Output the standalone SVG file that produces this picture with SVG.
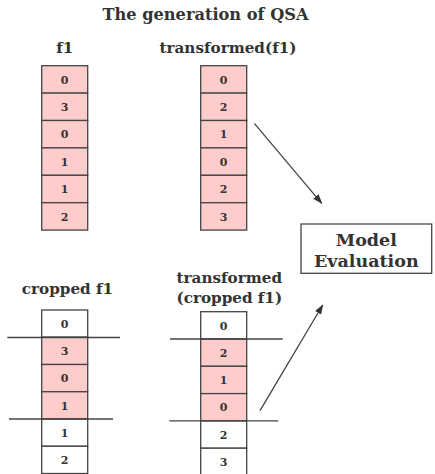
<svg xmlns="http://www.w3.org/2000/svg" width="435" height="474" viewBox="0 0 435 474">
<defs>
<style>
.t{font-family:"DejaVu Serif","Liberation Serif",serif;font-weight:bold;fill:#333;text-anchor:middle}
.title{font-size:16.2px}
.lbl{font-size:15.2px}
.me{font-size:17.5px}
.d{font-size:11px}
.pk{fill:#ffcccc;stroke:#444;stroke-width:1.3}
.wh{fill:#ffffff;stroke:#444;stroke-width:1.3}
.ln{stroke:#444;stroke-width:1.3;fill:none}
</style>
<marker id="ah" markerWidth="10" markerHeight="8" refX="9" refY="4" orient="auto" markerUnits="userSpaceOnUse">
<path d="M0,0.5 L10,4 L0,7.5 z" fill="#333"/>
</marker>
</defs>
<rect width="435" height="474" fill="#fff"/>
<text class="t title" x="205.5" y="19.5">The generation of QSA</text>

<g id="f1">
<text class="t lbl" x="64.7" y="53">f1</text>
<rect class="pk" x="41.7" y="65.7" width="46" height="27.4"/>
<rect class="pk" x="41.7" y="93.1" width="46" height="27.4"/>
<rect class="pk" x="41.7" y="120.5" width="46" height="27.4"/>
<rect class="pk" x="41.7" y="147.9" width="46" height="27.4"/>
<rect class="pk" x="41.7" y="175.3" width="46" height="27.4"/>
<rect class="pk" x="41.7" y="202.7" width="46" height="27.4"/>
<text class="t d" x="64.7" y="83.5">0</text>
<text class="t d" x="64.7" y="110.9">3</text>
<text class="t d" x="64.7" y="138.3">0</text>
<text class="t d" x="64.7" y="165.7">1</text>
<text class="t d" x="64.7" y="193.1">1</text>
<text class="t d" x="64.7" y="220.5">2</text>
</g>

<g id="transformed-f1">
<text class="t lbl" x="228" y="53">transformed(f1)</text>
<rect class="pk" x="200.7" y="65.7" width="46" height="27.4"/>
<rect class="pk" x="200.7" y="93.1" width="46" height="27.4"/>
<rect class="pk" x="200.7" y="120.5" width="46" height="27.4"/>
<rect class="pk" x="200.7" y="147.9" width="46" height="27.4"/>
<rect class="pk" x="200.7" y="175.3" width="46" height="27.4"/>
<rect class="pk" x="200.7" y="202.7" width="46" height="27.4"/>
<text class="t d" x="223.7" y="83.5">0</text>
<text class="t d" x="223.7" y="110.9">2</text>
<text class="t d" x="223.7" y="138.3">1</text>
<text class="t d" x="223.7" y="165.7">0</text>
<text class="t d" x="223.7" y="193.1">2</text>
<text class="t d" x="223.7" y="220.5">3</text>
</g>

<g id="model-evaluation">
<rect class="wh" x="301" y="224" width="130.7" height="49.3"/>
<text class="t me" x="366.3" y="245.5">Model</text>
<text class="t me" x="366.3" y="266.5">Evaluation</text>
</g>

<g id="cropped-f1">
<text class="t lbl" x="67.5" y="294">cropped f1</text>
<rect class="wh" x="41.7" y="310" width="46" height="27.25"/>
<rect class="pk" x="41.7" y="337.25" width="46" height="27.25"/>
<rect class="pk" x="41.7" y="364.5" width="46" height="27.25"/>
<rect class="pk" x="41.7" y="391.75" width="46" height="27.25"/>
<rect class="wh" x="41.7" y="419" width="46" height="27.25"/>
<rect class="wh" x="41.7" y="446.25" width="46" height="27.25"/>
<text class="t d" x="64.7" y="327.8">0</text>
<text class="t d" x="64.7" y="355">3</text>
<text class="t d" x="64.7" y="382.3">0</text>
<text class="t d" x="64.7" y="409.5">1</text>
<text class="t d" x="64.7" y="436.8">1</text>
<text class="t d" x="64.7" y="464">2</text>
</g>

<g id="transformed-cropped-f1">
<text class="t lbl" x="229.3" y="283.3">transformed</text>
<text class="t lbl" x="229.3" y="303.3">(cropped f1)</text>
<rect class="wh" x="200.7" y="311.7" width="46" height="27.3"/>
<rect class="pk" x="200.7" y="339" width="46" height="27.3"/>
<rect class="pk" x="200.7" y="366.3" width="46" height="27.3"/>
<rect class="pk" x="200.7" y="393.6" width="46" height="27.3"/>
<rect class="wh" x="200.7" y="420.9" width="46" height="27.3"/>
<rect class="wh" x="200.7" y="448.2" width="46" height="27.3"/>
<text class="t d" x="223.7" y="329.5">0</text>
<text class="t d" x="223.7" y="356.8">2</text>
<text class="t d" x="223.7" y="384.1">1</text>
<text class="t d" x="223.7" y="411.4">0</text>
<text class="t d" x="223.7" y="438.7">2</text>
<text class="t d" x="223.7" y="466">3</text>
</g>

<g id="crop-lines">
<line class="ln" x1="7.3" y1="337.5" x2="120" y2="337.5"/>
<line class="ln" x1="9" y1="419" x2="113" y2="419"/>
<line class="ln" x1="170" y1="339" x2="282.7" y2="339"/>
<line class="ln" x1="169.3" y1="420.8" x2="278.3" y2="420.8"/>
</g>

<g id="connectors">
<line class="ln" x1="254.3" y1="123.3" x2="321.7" y2="203.3" marker-end="url(#ah)"/>
<line class="ln" x1="260" y1="410.7" x2="322.7" y2="305" marker-end="url(#ah)"/>
</g>
</svg>
